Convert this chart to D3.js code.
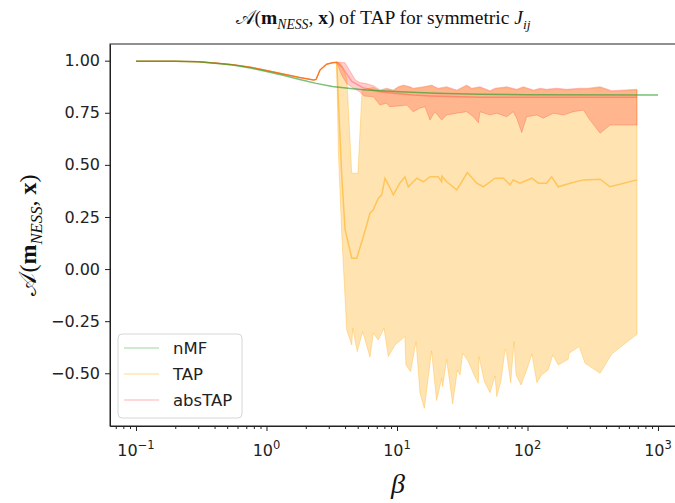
<!DOCTYPE html>
<html>
<head>
<meta charset="utf-8">
<script src="https://cdn.jsdelivr.net/npm/d3@7"></script>
<style>
  body { margin: 0; background: #fff; }
  svg text { font-family: "DejaVu Sans", sans-serif; }
</style>
</head>
<body>
<script>
// values, [beta, A]
// all TAP / absTAP curves coincide up to beta ~ 3.45
var shared = [[0.1,0.997],[0.2,0.997],[0.3,0.995],[0.42,0.988],[0.55,0.981],[0.75,0.969],[1.0,0.953],
  [1.34,0.936],[1.8,0.919],[2.3,0.907],[2.4,0.91],[2.57,0.955],[2.89,0.983],[3.2,0.99],[3.45,0.992]];

var nmfMean = [[0.1,0.997],[0.2,0.997],[0.3,0.995],[0.42,0.987],[0.55,0.979],[0.75,0.965],[1.0,0.948],
  [1.34,0.93],[1.8,0.91],[2.4,0.891],[3.2,0.876],[4.4,0.866],[5.8,0.859],[10.5,0.851],[20,0.844],
  [43,0.839],[100,0.836],[1000,0.835]];

var tapMeanTail = [[3.77,0.45],[4.0,0.19],[4.5,0.052],[4.91,0.052],[5.52,0.155],[6.21,0.268],[6.58,0.284],
  [7.19,0.34],[7.64,0.356],[8.09,0.436],[8.84,0.39],[9.37,0.356],[10.5,0.412],[11.5,0.443],[12.2,0.395],
  [14.2,0.436],[15.9,0.419],[17.9,0.443],[20.7,0.443],[22.0,0.419],[22.1,0.446],[24.0,0.419],[28.7,0.38],
  [34.6,0.463],[40.8,0.412],[45.8,0.395],[56.4,0.436],[65.3,0.436],[73.5,0.404],[77.8,0.428],[87.6,0.412],
  [108,0.436],[121,0.412],[140,0.412],[153,0.443],[172,0.395],[212,0.412],[268,0.428],[360,0.431],
  [429,0.395],[690,0.428]];

var tapLowTail = [[3.55,0.57],[3.77,0.17],[4.12,-0.292],[4.5,-0.364],[4.58,-0.284],[4.96,-0.396],
  [5.46,-0.3],[6.21,-0.423],[6.58,-0.308],[7.19,-0.34],[7.95,-0.284],[8.58,-0.42],[9.66,-0.364],
  [11.5,-0.324],[11.7,-0.46],[12.7,-0.492],[14.0,-0.348],[15.0,-0.596],[16.2,-0.668],[18.4,-0.392],
  [20.1,-0.631],[22.0,-0.524],[22.4,-0.564],[24.0,-0.433],[26.7,-0.647],[29.0,-0.484],[30.4,-0.508],
  [31.9,-0.404],[35.2,-0.444],[38.9,-0.508],[42.0,-0.548],[42.5,-0.42],[46.7,-0.54],[51.6,-0.593],
  [56.4,-0.513],[58.1,-0.612],[62.4,-0.54],[67.3,-0.388],[68.5,-0.388],[74.3,-0.545],[78.8,-0.348],
  [81.7,-0.508],[89.2,-0.556],[98.6,-0.484],[108,-0.407],[118,-0.545],[128,-0.508],[144,-0.484],
  [156,-0.412],[172,-0.46],[205,-0.433],[208,-0.404],[249,-0.372],[276,-0.452],[360,-0.5],
  [442,-0.407],[690,-0.313]];

var tapHighTail = [[3.66,0.99],[4.12,0.92],[4.5,0.46],[5.02,0.46],[5.4,0.86],[6.6,0.872],[7.41,0.855],
  [8.34,0.864],[9.37,0.855],[10.2,0.871],[11.2,0.879],[12.6,0.871],[13.3,0.864],[15.9,0.871],[18.5,0.879],
  [19.5,0.871],[20.7,0.864],[24.0,0.871],[28.7,0.855],[34.2,0.879],[37.4,0.864],[43.3,0.871],[51.6,0.852],
  [56.4,0.864],[69.3,0.871],[82.6,0.859],[92.9,0.871],[111,0.855],[125,0.864],[140,0.859],[167,0.864],
  [200,0.859],[253,0.864],[292,0.864],[360,0.871],[442,0.852],[690,0.859]];

var absMeanTail = [[3.8,0.97],[4.5,0.9],[5.5,0.87],[7.4,0.851],[9.4,0.844],[13.3,0.835],[18,0.831],
  [43,0.824],[120,0.825],[690,0.824]];

var absLowTail = [[3.77,0.93],[4.12,0.89],[4.6,0.87],[5.2,0.85],[5.6,0.83],[6.6,0.827],[7.4,0.787],
  [8.3,0.796],[8.8,0.779],[10.5,0.783],[11.9,0.787],[13.3,0.755],[15.0,0.772],[16.4,0.779],[17.9,0.715],
  [19.5,0.755],[22.0,0.715],[24.0,0.739],[28.7,0.748],[34.2,0.755],[38.5,0.731],[42.0,0.702],[43.3,0.755],
  [51.6,0.739],[58.1,0.748],[69.2,0.731],[77.8,0.755],[82.6,0.724],[90.3,0.655],[98.6,0.731],[118,0.739],
  [132,0.724],[158,0.748],[188,0.739],[224,0.755],[268,0.763],[301,0.715],[360,0.652],[429,0.691],[690,0.691]];

var absHighTail = [[3.66,0.993],[4.0,0.99],[4.4,0.947],[4.8,0.907],[5.2,0.895],[5.8,0.89],[6.6,0.88],
  [7.41,0.859],[8.34,0.868],[9.37,0.859],[10.2,0.875],[11.2,0.883],[12.6,0.875],[13.3,0.868],[15.9,0.875],
  [18.5,0.883],[19.5,0.875],[20.7,0.868],[24.0,0.875],[28.7,0.859],[34.2,0.883],[37.4,0.868],[43.3,0.875],
  [51.6,0.856],[56.4,0.868],[69.3,0.875],[82.6,0.863],[92.9,0.875],[111,0.859],[125,0.868],[140,0.863],
  [167,0.868],[200,0.863],[253,0.868],[292,0.868],[360,0.875],[442,0.856],[690,0.863]];

var legendNames = ["nMF", "TAP", "absTAP"];
var xTickExps = [-1, 0, 1, 2, 3];
var yTicks = [1.0, 0.75, 0.5, 0.25, 0.0, -0.25, -0.5];

var tapMean = shared.concat(tapMeanTail),
    tapLow = shared.concat(tapLowTail),
    tapHigh = shared.concat(tapHighTail),
    absMean = shared.concat(absMeanTail),
    absLow = shared.concat(absLowTail),
    absHigh = shared.concat(absHighTail);

// layout
var W = 675, H = 503;
var margin = {top: 44, left: 110, right: 684, bottom: 426};

var svg = d3.select("body").append("svg")
    .attr("width", W)
    .attr("height", H);

var x = d3.scaleLog()
    .domain([Math.pow(10, -1.199), Math.pow(10, 3.199)])
    .range([margin.left, margin.right]);

var y = d3.scaleLinear()
    .domain([-0.753, 1.08])
    .range([margin.bottom, margin.top]);

var line = d3.line()
    .x(function(d) { return x(d[0]); })
    .y(function(d) { return y(d[1]); });

function band(high, low) {
    return line(high.concat(low.slice().reverse())) + "Z";
}

var orange = "#ffa500", red = "#ff0000", green = "#2ca02c";

// bands
svg.append("path")
    .attr("d", band(tapHigh, tapLow))
    .attr("fill", orange).attr("fill-opacity", 0.3)
    .attr("stroke", orange).attr("stroke-opacity", 0.3).attr("stroke-width", 1);

svg.append("path")
    .attr("d", band(absHigh, absLow))
    .attr("fill", red).attr("fill-opacity", 0.2)
    .attr("stroke", red).attr("stroke-opacity", 0.2).attr("stroke-width", 1);

// mean lines
svg.append("path").attr("d", line(tapMean))
    .attr("fill", "none").attr("stroke", orange).attr("stroke-opacity", 0.5).attr("stroke-width", 1.5);
svg.append("path").attr("d", line(absMean))
    .attr("fill", "none").attr("stroke", red).attr("stroke-opacity", 0.25).attr("stroke-width", 1.5);
svg.append("path").attr("d", line(nmfMean))
    .attr("fill", "none").attr("stroke", green).attr("stroke-opacity", 0.65).attr("stroke-width", 1.5);

// axes
svg.append("g")
    .attr("transform", "translate(0," + margin.bottom + ")")
    .call(d3.axisBottom(x).tickValues(xTickExps.map(function(e) { return Math.pow(10, e); }))
        .tickFormat("").tickSizeInner(5).tickSizeOuter(0));

var minor = [];
[-2, -1, 0, 1, 2, 3].forEach(function(e) {
    for (var k = 2; k <= 9; k++) {
        var v = k * Math.pow(10, e);
        if (v > x.domain()[0] && v < x.domain()[1]) minor.push(v);
    }
});
svg.append("g")
    .attr("transform", "translate(0," + margin.bottom + ")")
    .call(d3.axisBottom(x).tickValues(minor).tickFormat("").tickSizeInner(3).tickSizeOuter(0))
    .select(".domain").remove();

xTickExps.forEach(function(e) {
    var t = svg.append("text")
        .attr("x", x(Math.pow(10, e)))
        .attr("y", margin.bottom + 30)
        .attr("text-anchor", "middle")
        .attr("font-size", 16)
        .attr("fill", "#222");
    t.append("tspan").text("10");
    t.append("tspan").attr("dy", -7).attr("font-size", 11.5).text(String(e).replace("-", "\u2212"));
});

svg.append("g")
    .attr("transform", "translate(" + margin.left + ",0)")
    .call(d3.axisLeft(y).tickValues(yTicks)
        .tickFormat(function(d) { return d3.format(".2f")(d).replace("-", "\u2212"); })
        .tickSizeInner(5).tickSizeOuter(0).tickPadding(5))
    .selectAll("text").attr("font-size", 16).attr("fill", "#222");

svg.selectAll(".domain").attr("stroke", "#222");
svg.selectAll(".tick line").attr("stroke", "#222");

// frame (top/right)
svg.append("rect")
    .attr("x", margin.left).attr("y", margin.top)
    .attr("width", margin.right - margin.left).attr("height", margin.bottom - margin.top)
    .attr("fill", "none").attr("stroke", "#222").attr("stroke-width", 1);

// math-like labels
function mathLabel(sel, size) {
    sel.append("tspan").text("\ud835\udc9c(");
    sel.append("tspan").attr("font-weight", "bold").text("m");
    sel.append("tspan").attr("font-style", "italic").attr("font-size", size * 0.7).attr("dy", size * 0.25).text("NESS");
    sel.append("tspan").attr("dy", -size * 0.25).text(", ");
    sel.append("tspan").attr("font-weight", "bold").text("x");
    sel.append("tspan").text(")");
}

var title = svg.append("text")
    .attr("x", 383).attr("y", 24)
    .attr("text-anchor", "middle")
    .style("font-family", "'Liberation Serif', serif")
    .attr("font-size", 19.5)
    .attr("fill", "#111");
mathLabel(title, 19.5);
title.append("tspan").text(" of TAP for symmetric ");
title.append("tspan").attr("font-style", "italic").text("J");
title.append("tspan").attr("font-style", "italic").attr("font-size", 13.5).attr("dy", 5).text("ij");

var ylab = svg.append("text")
    .attr("transform", "translate(36,235) rotate(-90)")
    .attr("text-anchor", "middle")
    .style("font-family", "'Liberation Serif', serif")
    .attr("font-size", 24)
    .attr("fill", "#111");
mathLabel(ylab, 24);

svg.append("text")
    .attr("x", 398).attr("y", 493)
    .attr("text-anchor", "middle")
    .style("font-family", "'Liberation Serif', serif")
    .attr("font-style", "italic")
    .attr("font-size", 28)
    .attr("fill", "#111")
    .text("\u03b2");

// legend
var legend = svg.append("g");
legend.append("rect")
    .attr("x", 118).attr("y", 334).attr("width", 124).attr("height", 84)
    .attr("rx", 4)
    .attr("fill", "#fff").attr("fill-opacity", 0.8)
    .attr("stroke", "#d6d6d6");
var legendColors = [green, orange, red], legendAlpha = [0.3, 0.3, 0.2];
legendNames.forEach(function(name, i) {
    var ly = 348 + i * 26;
    legend.append("line")
        .attr("x1", 124).attr("x2", 159).attr("y1", ly).attr("y2", ly)
        .attr("stroke", legendColors[i]).attr("stroke-opacity", legendAlpha[i]).attr("stroke-width", 1.5);
    legend.append("text")
        .attr("x", 173).attr("y", ly + 6)
        .attr("font-size", 16.5).attr("fill", "#222")
        .text(name);
});
</script>
</body>
</html>
